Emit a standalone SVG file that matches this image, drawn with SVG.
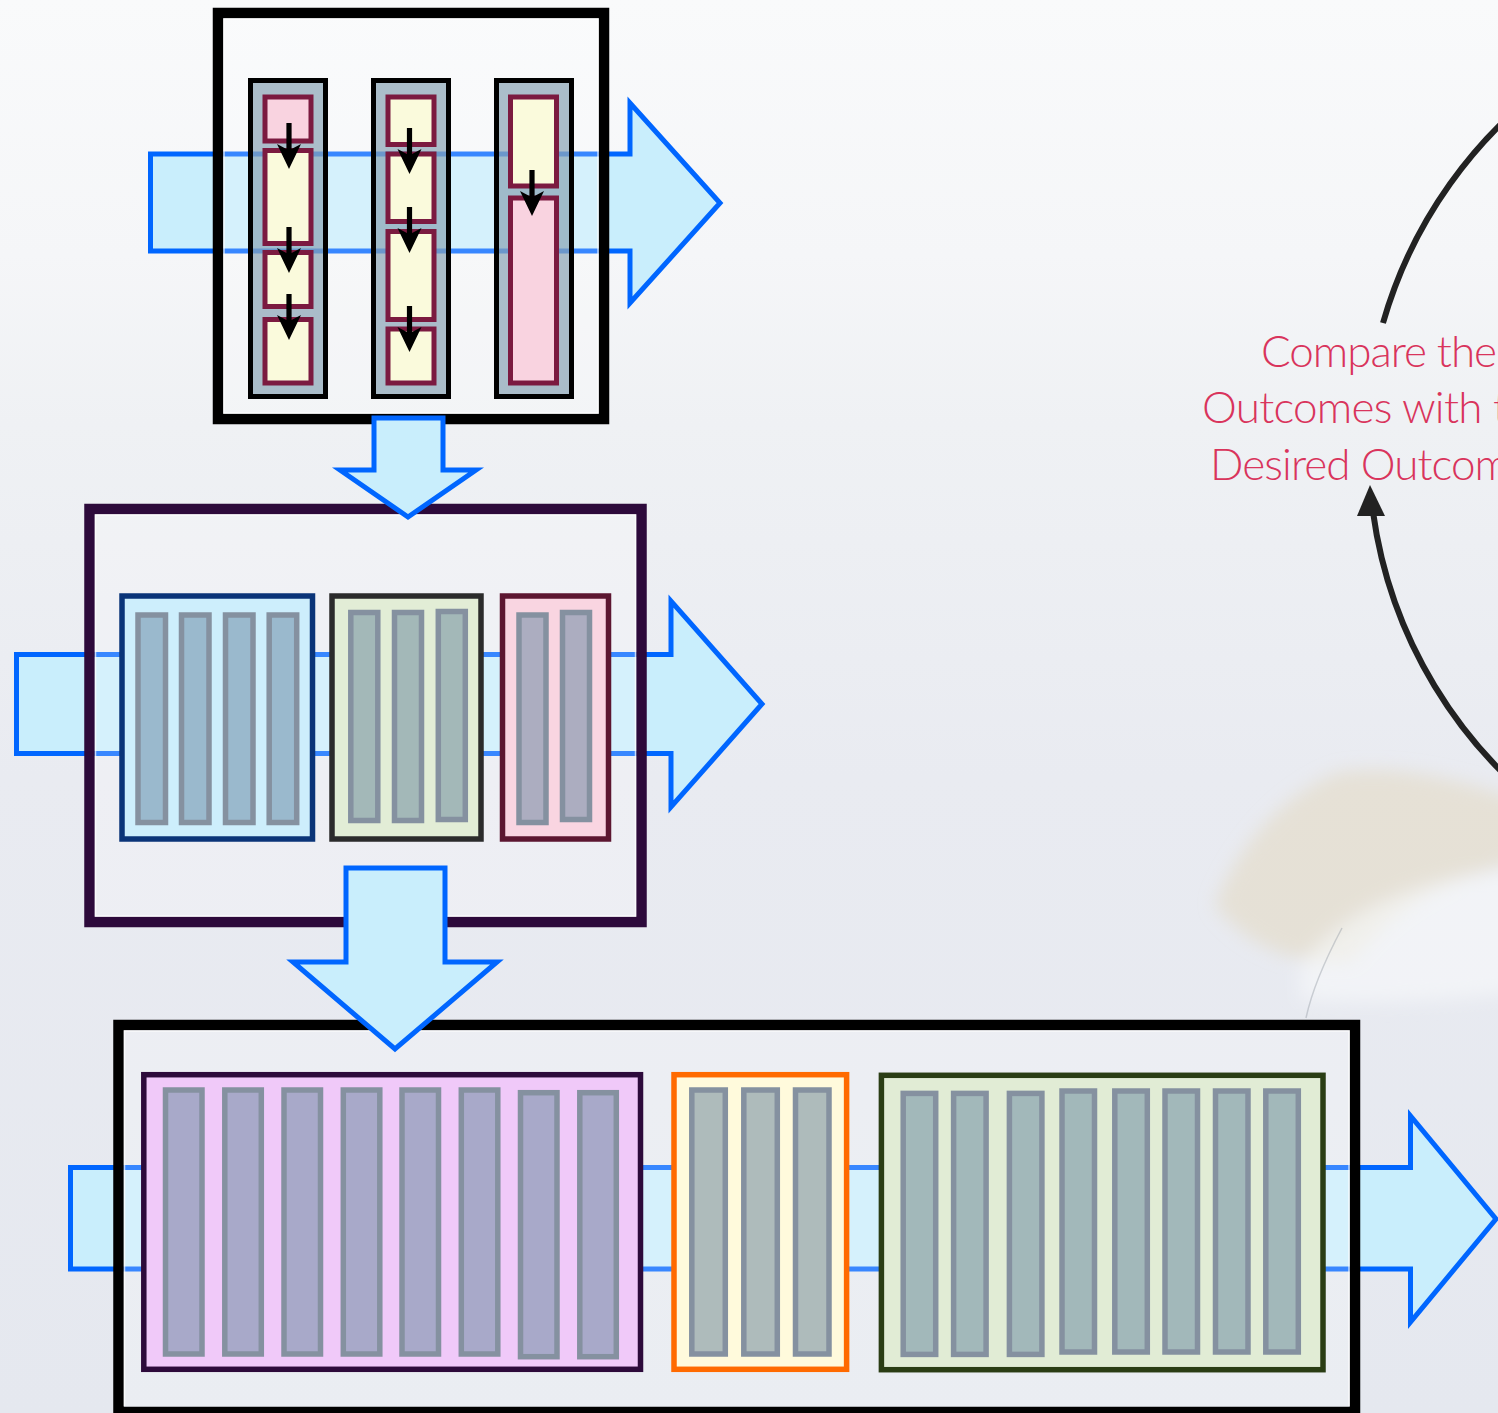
<svg xmlns="http://www.w3.org/2000/svg" width="1498" height="1413" viewBox="0 0 1498 1413">
  <defs>
    <linearGradient id="sky" x1="0" y1="0" x2="0" y2="1">
      <stop offset="0" stop-color="#f9fafb"/>
      <stop offset="0.18" stop-color="#f5f6f8"/>
      <stop offset="0.3" stop-color="#eff1f4"/>
      <stop offset="0.55" stop-color="#e9ebf1"/>
      <stop offset="1" stop-color="#e5e8ef"/>
    </linearGradient>
    <filter id="soft" filterUnits="userSpaceOnUse" x="1100" y="650" width="500" height="450">
      <feGaussianBlur stdDeviation="9"/>
    </filter>
    <!-- small black step arrow, tip at origin -->
    <path id="step" d="M-2.6,-46 L2.6,-46 L2.6,-20 L12,-25 L0,0 L-12,-25 L-2.6,-20 Z"/>
    <style>
      .flow { fill: #c9eefc; stroke: #0066ff; stroke-width: 5; stroke-linejoin: miter; }
      .frame { fill: #ffffff; fill-opacity: 0.22; stroke-width: 10.5; }
      .rim { fill: none; stroke: #ffffff; stroke-opacity: 0.7; stroke-width: 1.5; }
      .col { fill: #859fb1; fill-opacity: 0.67; stroke: #000000; stroke-width: 5; }
      .cell { stroke: #7b1a40; stroke-width: 5; }
      .yel { fill: #fafadc; }
      .pnk { fill: #f9d3e0; }
      .box { stroke-width: 5.5; }
      .bar { stroke: #8591a0; stroke-width: 5.5; }
      .note { font-family: Lato, "Open Sans", "Liberation Sans", sans-serif; font-size: 44px; font-weight: 300; fill: #d9345c; }
      .loop { fill: none; stroke: #222222; stroke-width: 6; }
    </style>
  </defs>

  <!-- foggy backdrop -->
  <g id="backdrop">
    <rect x="0" y="0" width="1498" height="1413" fill="url(#sky)"/>
    <g filter="url(#soft)">
      <path d="M1215,905 C1240,840 1290,790 1340,772 C1400,764 1460,780 1520,800 L1520,862 C1440,882 1400,905 1352,962 C1300,966 1250,950 1215,905 Z" fill="#e4d7bb" fill-opacity="0.5"/>
      <path d="M1300,965 C1350,905 1420,878 1540,865 L1540,990 C1460,1000 1380,1005 1300,1000 Z" fill="#f9fafc" fill-opacity="0.6"/>
    </g>
    <path d="M1342,928 C1325,960 1312,990 1306,1018" fill="none" stroke="#9aa0a8" stroke-opacity="0.45" stroke-width="1.5"/>
  </g>

  <!-- stage 1: three columns of steps -->
  <g id="stage1">
    <path class="flow" d="M150.5,154 L630,154 L630,103 L720,203 L630,303 L630,251 L150.5,251 Z"/>
    <rect class="frame" x="218" y="13" width="386" height="406" stroke="#000000"/>
    <rect class="rim" x="224" y="19" width="374" height="394"/>
    <g id="s1-col1">
      <rect class="col" x="250.5" y="80.5" width="75" height="316"/>
      <rect class="cell pnk" x="265" y="97" width="46" height="44"/>
      <rect class="cell yel" x="265" y="150.5" width="46" height="93"/>
      <rect class="cell yel" x="265" y="252.5" width="46" height="54"/>
      <rect class="cell yel" x="265" y="319.5" width="46" height="63.5"/>
      <use href="#step" x="289" y="169"/>
      <use href="#step" x="289" y="273"/>
      <use href="#step" x="289" y="340"/>
    </g>
    <g id="s1-col2">
      <rect class="col" x="373.5" y="80.5" width="75" height="316"/>
      <rect class="cell yel" x="388" y="97" width="46" height="47.5"/>
      <rect class="cell yel" x="388" y="154" width="46" height="67.5"/>
      <rect class="cell yel" x="388" y="231.5" width="46" height="88"/>
      <rect class="cell yel" x="388" y="329" width="46" height="54"/>
      <use href="#step" x="409.5" y="174"/>
      <use href="#step" x="409.5" y="253"/>
      <use href="#step" x="409.5" y="352"/>
    </g>
    <g id="s1-col3">
      <rect class="col" x="496.5" y="80.5" width="75" height="316"/>
      <rect class="cell yel" x="510.5" y="97" width="46" height="89"/>
      <rect class="cell pnk" x="510.5" y="198" width="46" height="185"/>
      <use href="#step" x="532" y="216"/>
    </g>
  </g>

  <!-- stage 2: three groups of bars -->
  <g id="stage2">
    <path class="flow" d="M16.5,654.5 L671,654.5 L671,601 L762,704 L671,807 L671,753.5 L16.5,753.5 Z"/>
    <rect class="frame" x="89.5" y="509" width="552" height="413" stroke="#2d0a3b"/>
    <rect class="rim" x="95.5" y="515" width="540" height="401"/>
    <g id="s2-blue">
      <rect class="box" x="122" y="596" width="190.5" height="243" fill="#cdeefc" stroke="#0a3478"/>
      <rect class="bar" x="138" y="615" width="27.5" height="207.5" fill="#9ab9cd"/>
      <rect class="bar" x="181.5" y="615" width="27.5" height="207.5" fill="#9ab9cd"/>
      <rect class="bar" x="225.5" y="615" width="27.5" height="207.5" fill="#9ab9cd"/>
      <rect class="bar" x="269.2" y="615" width="27.5" height="207.5" fill="#9ab9cd"/>
    </g>
    <g id="s2-green">
      <rect class="box" x="332" y="596" width="149" height="243" fill="#e2edd6" stroke="#2b2b2b"/>
      <rect class="bar" x="350.8" y="612.5" width="27" height="208" fill="#a3b8b8"/>
      <rect class="bar" x="394.5" y="612.5" width="27" height="208" fill="#a3b8b8"/>
      <rect class="bar" x="438.3" y="611.5" width="27" height="208" fill="#a3b8b8"/>
    </g>
    <g id="s2-pink">
      <rect class="box" x="502.5" y="596" width="106" height="243" fill="#f9d5e1" stroke="#5c1630"/>
      <rect class="bar" x="519" y="615" width="27" height="207.5" fill="#acadc0"/>
      <rect class="bar" x="562.5" y="612.5" width="27" height="207" fill="#acadc0"/>
    </g>
  </g>

  <!-- stage 3: wide groups of bars -->
  <g id="stage3">
    <path class="flow" d="M70.5,1167.5 L1410.5,1167.5 L1410.5,1116 L1496,1219 L1410.5,1322 L1410.5,1269 L70.5,1269 Z"/>
    <rect class="frame" x="118.5" y="1025" width="1236.5" height="387" stroke="#000000" stroke-width="11"/>
    <path class="rim" d="M124.5,1406 L124.5,1031 L1349,1031 L1349,1406"/>
    <g id="s3-violet">
      <rect class="box" x="143.8" y="1074.7" width="496.7" height="294.6" fill="#f0c9f9" stroke="#2d0a3b" stroke-width="6"/>
      <rect class="bar" x="165.5" y="1090" width="36.5" height="264" fill="#a8a9c9"/>
      <rect class="bar" x="224.8" y="1090" width="36.5" height="264" fill="#a8a9c9"/>
      <rect class="bar" x="284" y="1090" width="36.5" height="264" fill="#a8a9c9"/>
      <rect class="bar" x="343.3" y="1090" width="36.5" height="264" fill="#a8a9c9"/>
      <rect class="bar" x="402" y="1090" width="36.5" height="264" fill="#a8a9c9"/>
      <rect class="bar" x="461.3" y="1090" width="36.5" height="264" fill="#a8a9c9"/>
      <rect class="bar" x="520.5" y="1092.7" width="36.5" height="264" fill="#a8a9c9"/>
      <rect class="bar" x="579.8" y="1092.7" width="36.5" height="264" fill="#a8a9c9"/>
    </g>
    <g id="s3-orange">
      <rect class="box" x="674" y="1074.7" width="172.6" height="294.6" fill="#fffadc" stroke="#ff6a00" stroke-width="6"/>
      <rect class="bar" x="691.8" y="1090" width="33.5" height="264" fill="#aebbbb"/>
      <rect class="bar" x="743.8" y="1090" width="33.5" height="264" fill="#aebbbb"/>
      <rect class="bar" x="795.5" y="1090" width="33.5" height="264" fill="#aebbbb"/>
    </g>
    <g id="s3-green">
      <rect class="box" x="881.4" y="1075.3" width="441.6" height="294.4" fill="#e1ecd5" stroke="#2a3d14" stroke-width="6"/>
      <rect class="bar" x="903.2" y="1093.4" width="32.5" height="261" fill="#a2b8ba"/>
      <rect class="bar" x="953.6" y="1093.4" width="32.5" height="261" fill="#a2b8ba"/>
      <rect class="bar" x="1009.4" y="1093.4" width="32.5" height="261" fill="#a2b8ba"/>
      <rect class="bar" x="1062" y="1091" width="32.5" height="261" fill="#a2b8ba"/>
      <rect class="bar" x="1114.8" y="1091" width="32.5" height="261" fill="#a2b8ba"/>
      <rect class="bar" x="1165" y="1091" width="32.5" height="261" fill="#a2b8ba"/>
      <rect class="bar" x="1215.5" y="1091" width="32.5" height="261" fill="#a2b8ba"/>
      <rect class="bar" x="1265.8" y="1091" width="32.5" height="261" fill="#a2b8ba"/>
    </g>
  </g>

  <!-- feedback label, running past the right edge -->
  <g id="compare-label">
    <text class="note" x="1261" y="367" textLength="236">Compare the</text>
    <text class="note" x="1202" y="423" textLength="306">Outcomes with t</text>
    <text class="note" x="1210" y="480" textLength="300">Desired Outcom</text>
  </g>

  <!-- connectors between stages and the feedback loop -->
  <g id="connectors">
    <path class="flow" d="M374,418 L443,418 L443,470 L476,470 L408,517 L340,470 L374,470 Z"/>
    <path class="flow" d="M346,868 L445,868 L445,962 L497,962 L395,1049 L293,962 L346,962 Z"/>
    <path class="loop" d="M1383,323 A455,455 0 0 1 1560,75"/>
    <path class="loop" d="M1560,821 A455,455 0 0 1 1373,512"/>
    <path d="M1370,485 L1385,516 L1357,516 Z" fill="#222222"/>
  </g>
</svg>
